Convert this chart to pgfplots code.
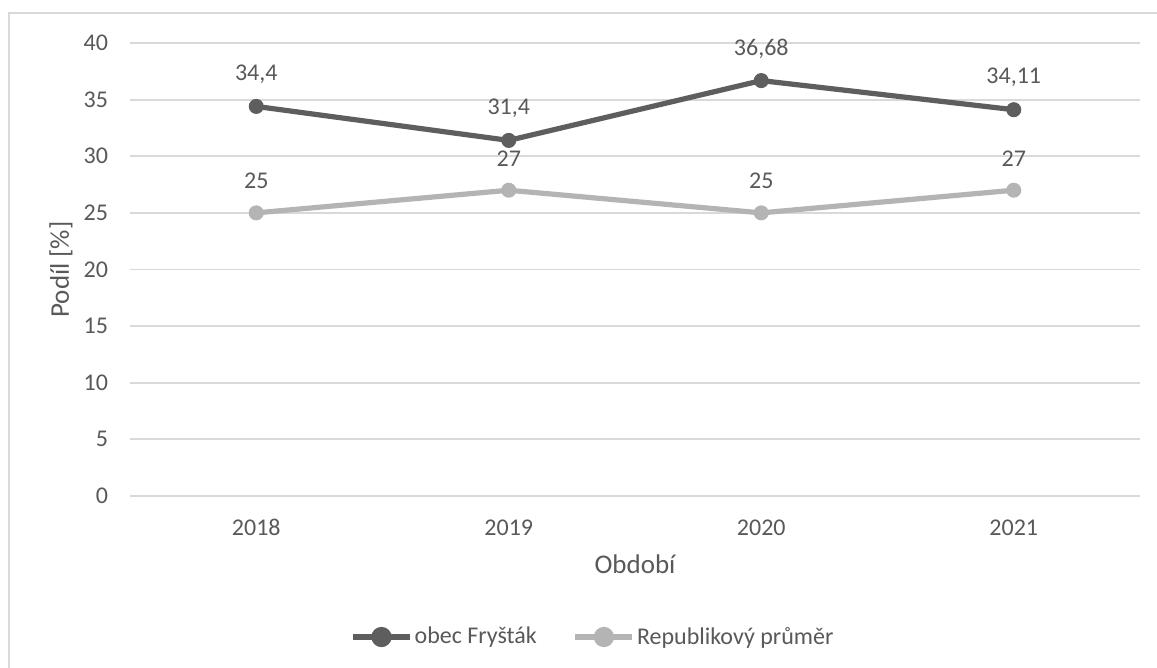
\documentclass[border=0pt]{standalone}
\usepackage{pgfplots}
\pgfplotsset{compat=1.18}
\usepackage{fontspec}
\setmainfont{Carlito}
\definecolor{darkline}{HTML}{5E5E5E}
\definecolor{lightline}{HTML}{B4B4B4}
\definecolor{txt}{HTML}{595959}
\definecolor{gridc}{HTML}{D9D9D9}

\begin{document}
\begin{tikzpicture}
\clip (0,0) rectangle (578.5pt,334pt);
\fill[white] (0,0) rectangle (578.5pt,334pt);
\draw[gridc, line width=1pt] (600pt,327.25pt) -- (4.5pt,327.25pt) -- (4.5pt,-10pt);
\begin{axis}[
  at={(65pt,86pt)}, anchor=south west,
  scale only axis, width=505pt, height=226.5pt,
  xmin=-0.5, xmax=3.5, ymin=0, ymax=40,
  xtick={0,1,2,3}, xticklabels={2018,2019,2020,2021},
  ytick={0,5,...,40},
  ymajorgrids, major grid style={gridc, line width=0.9pt},
  axis line style={draw=none},
  major tick length=0pt,
  clip=false,
  tick label style={font=\fontsize{12}{14}\selectfont, text=txt},
  /pgf/number format/assume math mode=true,
  /pgf/number format/use comma,
  /pgf/number format/1000 sep={},
  yticklabel style={xshift=-7.5pt},
  xticklabel style={anchor=center, yshift=-15.75pt},
  xlabel={Období}, ylabel={Podíl [\%]},
  label style={font=\fontsize{13.5}{16}\selectfont, text=txt},
  xlabel style={at={(axis description cs:0.5,-0.150)}, anchor=center},
  ylabel style={at={(axis description cs:-0.0683,0.5)}, anchor=center},
  nodes near coords,
  every node near coord/.append style={font=\fontsize{12}{14}\selectfont, text=txt, anchor=center, yshift=16pt},
  legend style={at={(axis description cs:0.2119,-0.3113)}, anchor=west, draw=none, fill=none,
    font=\fontsize{12}{14}\selectfont, text=txt, legend columns=2,
    nodes={inner sep=1pt},
    /tikz/every even column/.append style={column sep=17pt}},
  legend image code/.code={
    \draw[#1, mark=none, line width=2.6pt] (0pt,0pt) -- (28.5pt,0pt);
    \fill[#1] (14.25pt,0pt) circle (3.75pt);
  },
]
\addplot[darkline, line width=2.6pt, mark=*, mark size=3.5pt,
  mark options={solid, fill=darkline, draw=darkline, line width=0.5pt}]
  coordinates {(0,34.4) (1,31.4) (2,36.68) (3,34.11)};
\addlegendentry{obec Fryšták}
\addplot[lightline, line width=2.6pt, mark=*, mark size=3.5pt,
  mark options={solid, fill=lightline, draw=lightline, line width=0.5pt}]
  coordinates {(0,25) (1,27) (2,25) (3,27)};
\addlegendentry{Republikový průměr}
\end{axis}
\end{tikzpicture}
\end{document}
